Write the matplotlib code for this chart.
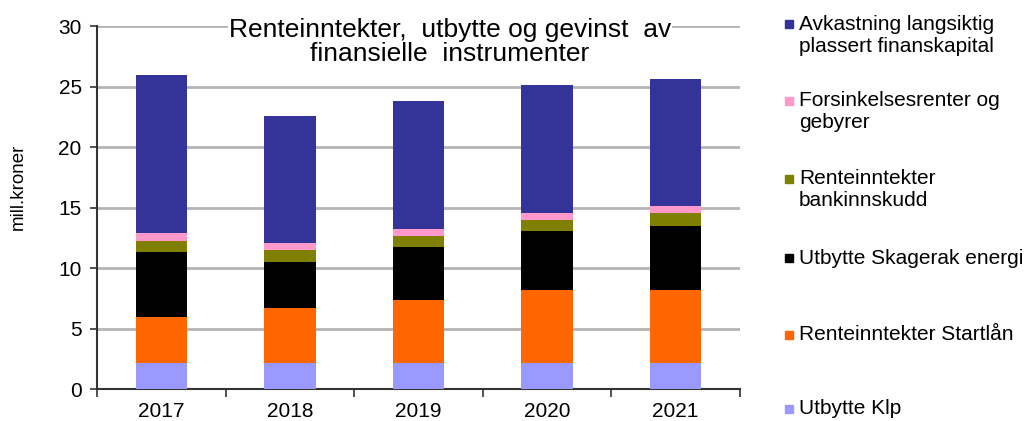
import numpy as np
import matplotlib
matplotlib.use("Agg")
from matplotlib import pyplot as plt
from matplotlib.patches import Rectangle

# data (mill. kroner)
years = ["2017", "2018", "2019", "2020", "2021"]
klp = [2.17, 2.17, 2.17, 2.17, 2.17]
startlan = [3.81, 4.58, 5.23, 6.01, 6.01]
skagerak = [5.34, 3.80, 4.33, 4.88, 5.29]
bankinnskudd = [0.96, 0.99, 0.97, 0.96, 1.10]
forsinkelse = [0.66, 0.55, 0.55, 0.53, 0.55]
avkastning = [13.06, 10.50, 10.55, 10.57, 10.50]

series = [
    ("Utbytte Klp", klp, "#9999FF"),
    ("Renteinntekter Startlån", startlan, "#FF6600"),
    ("Utbytte Skagerak energi", skagerak, "#000000"),
    ("Renteinntekter\nbankinnskudd", bankinnskudd, "#808000"),
    ("Forsinkelsesrenter og\ngebyrer", forsinkelse, "#FF99CC"),
    ("Avkastning langsiktig\nplassert finanskapital", avkastning, "#333399"),
]

plt.rcParams['font.family'] = ['Liberation Sans', 'DejaVu Sans']
fs = 15

fig = plt.figure(figsize=(10.26, 4.21), dpi=100)
ax = fig.add_axes([0.0945, 0.0753, 0.6265, 0.8622])

x = np.arange(len(years))
bottom = np.zeros(len(years))
for name, vals, col in series:
    ax.bar(x, vals, width=0.4, bottom=bottom, color=col, zorder=3)
    bottom += np.array(vals)

ax.set_ylim(0, 30)
ax.set_xlim(-0.5, len(years) - 0.5)
ax.set_yticks(range(0, 31, 5))
ax.yaxis.grid(True, color="#b4b4b4", linewidth=2, zorder=0)
ax.tick_params(axis="y", labelsize=fs, length=5, width=1.2, color="#333333", pad=6)

# category boundaries get tick marks, labels sit in between
ax.set_xticks(np.arange(-0.5, len(years), 1.0))
ax.set_xticklabels([])
ax.tick_params(axis="x", which="major", length=6, width=1.2, color="#333333")
ax.set_xticks(x, minor=True)
ax.set_xticklabels(years, minor=True)
ax.tick_params(axis="x", which="minor", length=0, labelsize=fs, pad=9)

for s in ["top", "right"]:
    ax.spines[s].set_visible(False)
for s in ["left", "bottom"]:
    ax.spines[s].set_color("#333333")
    ax.spines[s].set_linewidth(1.5)

fig.text(18 / 1026, 1 - 187 / 421, "mill.kroner", rotation=90, fontsize=13.5,
         ha="center", va="center")
fig.text(450 / 1026, 1 - 42 / 421, "Renteinntekter,  utbytte og gevinst  av\nfinansielle  instrumenter",
         fontsize=19, ha="center", va="center", linespacing=1.05, zorder=5,
         bbox=dict(facecolor="white", edgecolor="none", pad=1))

# legend, top entry first, evenly spread like the original
ys = [409, 335, 258, 190, 112, 35]
for (name, vals, col), yc in zip(series, ys):
    nlines = name.count("\n") + 1
    ytop = yc - (nlines - 1) * 11.5
    fig.add_artist(Rectangle((785 / 1026, 1 - (ytop + 4) / 421), 8 / 1026, 8 / 421,
                             transform=fig.transFigure, color=col))
    fig.text(799 / 1026, 1 - yc / 421, name, fontsize=fs, ha="left", va="center",
             linespacing=1.2)

fig.savefig("out.png", dpi=100)
